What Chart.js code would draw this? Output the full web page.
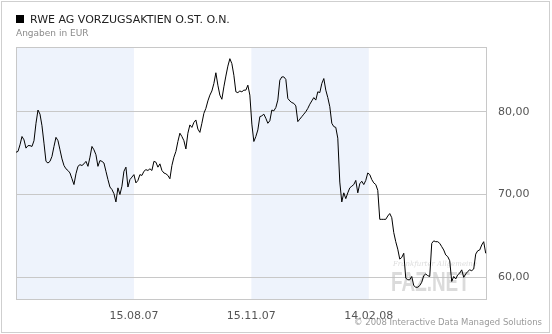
<!DOCTYPE html>
<html>
<head>
<meta charset="utf-8">
<script src="https://cdn.jsdelivr.net/npm/chart.js@4"></script>
<style>
  body { margin: 0; background: #fff; }
  #wrap { position: relative; width: 552px; height: 334px; font-family: "DejaVu Sans", Verdana, sans-serif; }
  #frame { position: absolute; left: 1px; top: 1px; width: 549px; height: 332px; box-sizing: border-box; border: 1px solid #cfcfcf; pointer-events: none; }
  #title { position: absolute; left: 16px; top: 13px; font-size: 11px; color: #222; white-space: nowrap; }
  #title .sq { display: inline-block; width: 8px; height: 8px; background: #000; margin-right: 6px; vertical-align: 0px; }
  #sub { position: absolute; left: 16px; top: 28px; font-size: 9px; color: #8a8a8a; }
  #copy { position: absolute; right: 10px; top: 317px; font-size: 8.5px; color: #9a9a9a; white-space: nowrap; }
</style>
</head>
<body>
<div id="wrap">
  <canvas id="chart" width="552" height="334"></canvas>
  <div id="title"><span class="sq"></span>RWE AG VORZUGSAKTIEN O.ST. O.N.</div>
  <div id="sub">Angaben in EUR</div>
  <div id="copy">© 2008 Interactive Data Managed Solutions</div>
  <div id="frame"></div>
</div>
<script>
// Kurse (EUR), ein Wert je Stichprobe, Quartal für Quartal ab 15.05.07
const pricesQ1 = [
  75.1, 75.2, 76.0, 77.0, 76.6, 75.6, 75.9, 75.9, 75.8, 76.5,
  78.6, 80.2, 79.7, 78.3, 76.2, 74.0, 73.8, 74.0, 74.6, 75.8,
  76.9, 76.5, 75.4, 74.3, 73.5, 73.1, 72.9, 72.6, 71.9, 71.2,
  72.5, 73.4, 73.6, 73.5, 73.7, 74.0, 73.4, 74.5, 75.8, 75.4,
  74.8, 73.4, 74.1, 74.0, 73.8, 72.8, 71.8, 70.9, 70.6, 70.1,
  69.1, 70.8, 70.0, 71.0, 72.8, 73.3, 70.9, 71.8, 72.1
];
const pricesQ2 = [
  72.4, 71.4, 71.7, 72.4, 72.3, 72.8, 73.0, 72.9, 73.1, 72.9,
  74.0, 73.9, 73.3, 73.7, 72.9, 72.6, 72.5, 72.3, 71.9, 73.5,
  74.5, 75.2, 76.4, 77.4, 77.0, 76.5, 75.5, 77.4, 78.4, 78.1,
  78.7, 79.0, 77.9, 77.5, 78.6, 79.8, 80.4, 81.3, 82.0, 82.5,
  83.4, 84.7, 83.2, 82.0, 81.5, 83.0, 84.3, 85.5, 86.4, 85.8,
  84.4, 82.4, 82.3, 82.5, 82.4, 82.6, 82.6, 83.2, 82.0
];
const pricesQ3 = [
  78.5, 76.4, 77.0, 77.8, 79.4, 79.5, 79.7, 79.2, 78.6, 78.9,
  80.2, 80.1, 80.5, 81.4, 83.8, 84.2, 84.2, 83.9, 81.6, 81.3,
  81.1, 81.0, 80.7, 78.8, 79.1, 79.4, 79.7, 80.0, 80.4, 80.9,
  81.3, 81.7, 81.4, 82.4, 82.3, 83.4, 84.0, 82.6, 81.7, 80.6,
  78.6, 78.2, 78.1, 76.8, 71.5, 69.1, 70.2, 69.5, 70.2, 70.8,
  71.0, 71.2, 71.7, 70.2, 71.3, 71.6, 71.2, 71.7, 72.6
];
const pricesQ4 = [
  72.4, 71.8, 71.4, 71.2, 70.5, 67.0, 67.0, 67.0, 67.0, 67.4,
  67.7, 67.2, 65.4, 64.3, 63.4, 62.2, 62.4, 62.9, 59.9, 59.7,
  59.7, 60.1, 59.0, 58.8, 58.8, 59.0, 59.4, 60.2, 60.4, 60.2,
  60.1, 64.1, 64.4, 64.3, 64.3, 64.1, 63.7, 63.3, 62.7, 62.5,
  62.0, 59.5, 60.1, 59.8, 60.3, 60.5, 60.9, 60.0, 60.4, 60.7,
  60.9, 60.8, 61.0, 62.8, 63.2, 63.3, 63.9, 64.3, 62.9
];

// Datumsmarken (Position in Stichproben) und Achse
const dateLabels = ['15.08.07', '15.11.07', '14.02.08'];
const dateIdx = [59, 117.75, 176.5];
const xMax = 235.65;
const yTicks = [60, 70, 80];
const yMin = 57.26, yMax = 87.81;

const prices = [...pricesQ1, ...pricesQ2, ...pricesQ3, ...pricesQ4];
const points = prices.map((v, i) => ({ x: i, y: v }));

// Quartals-Streifen im Hintergrund
const bandPlugin = {
  id: 'bands',
  beforeDraw(chart) {
    const { ctx, chartArea: a, scales: { x } } = chart;
    const bounds = [0, ...dateIdx, xMax];
    ctx.save();
    ctx.fillStyle = '#eef3fc';
    for (let i = 0; i < bounds.length - 1; i += 2) {
      const x0 = x.getPixelForValue(bounds[i]);
      const x1 = x.getPixelForValue(bounds[i + 1]);
      ctx.fillRect(x0, a.top, x1 - x0, a.bottom - a.top);
    }
    ctx.restore();
  }
};

// Rahmen + Wasserzeichen
const framePlugin = {
  id: 'frame',
  beforeDatasetsDraw(chart) {
    const { ctx, chartArea: a } = chart;
    ctx.save();
    ctx.fillStyle = 'rgba(190,190,190,0.55)';
    ctx.font = 'italic 7px "DejaVu Serif", serif';
    ctx.textAlign = 'left';
    ctx.fillText('Frankfurter Allgemeine', 393, 266);
    ctx.translate(391, 291);
    ctx.scale(0.7, 1);
    ctx.font = 'bold 27px "Liberation Sans", sans-serif';
    ctx.fillText('FAZ.NET', 0, 0);
    ctx.restore();

    ctx.save();
    ctx.strokeStyle = '#c8c8c8';
    ctx.lineWidth = 1;
    ctx.strokeRect(Math.round(a.left) + 0.5, Math.round(a.top) + 0.5,
      Math.round(a.right - a.left) - 1, Math.round(a.bottom - a.top) - 1);
    ctx.restore();
  }
};

new Chart(document.getElementById('chart'), {
  type: 'line',
  data: {
    datasets: [{
      data: points,
      borderColor: '#000',
      borderWidth: 1,
      pointRadius: 0,
      tension: 0,
      fill: false
    }]
  },
  options: {
    responsive: false,
    animation: false,
    layout: { padding: { left: 16, top: 47, right: 0, bottom: 0 } },
    plugins: { legend: { display: false }, tooltip: { enabled: false } },
    scales: {
      x: {
        type: 'linear',
        min: 0,
        max: xMax,
        grid: { display: false, drawTicks: false },
        border: { display: false },
        afterFit(s) { s.height = 34; },
        afterBuildTicks(s) { s.ticks = dateIdx.map(v => ({ value: v })); },
        ticks: {
          autoSkip: false,
          maxRotation: 0,
          padding: 10,
          color: '#555',
          font: { family: '"DejaVu Sans", sans-serif', size: 11 },
          callback: (v) => dateLabels[dateIdx.indexOf(v)]
        }
      },
      y: {
        position: 'right',
        min: yMin,
        max: yMax,
        grid: { color: '#c8c8c8', drawTicks: false },
        border: { display: false },
        afterFit(s) { s.width = 65; },
        afterBuildTicks(s) { s.ticks = yTicks.map(v => ({ value: v })); },
        ticks: {
          padding: 11,
          color: '#555',
          font: { family: '"DejaVu Sans", sans-serif', size: 11 },
          callback: (v) => v.toFixed(2).replace('.', ',')
        }
      }
    }
  },
  plugins: [bandPlugin, framePlugin]
});
</script>
</body>
</html>
